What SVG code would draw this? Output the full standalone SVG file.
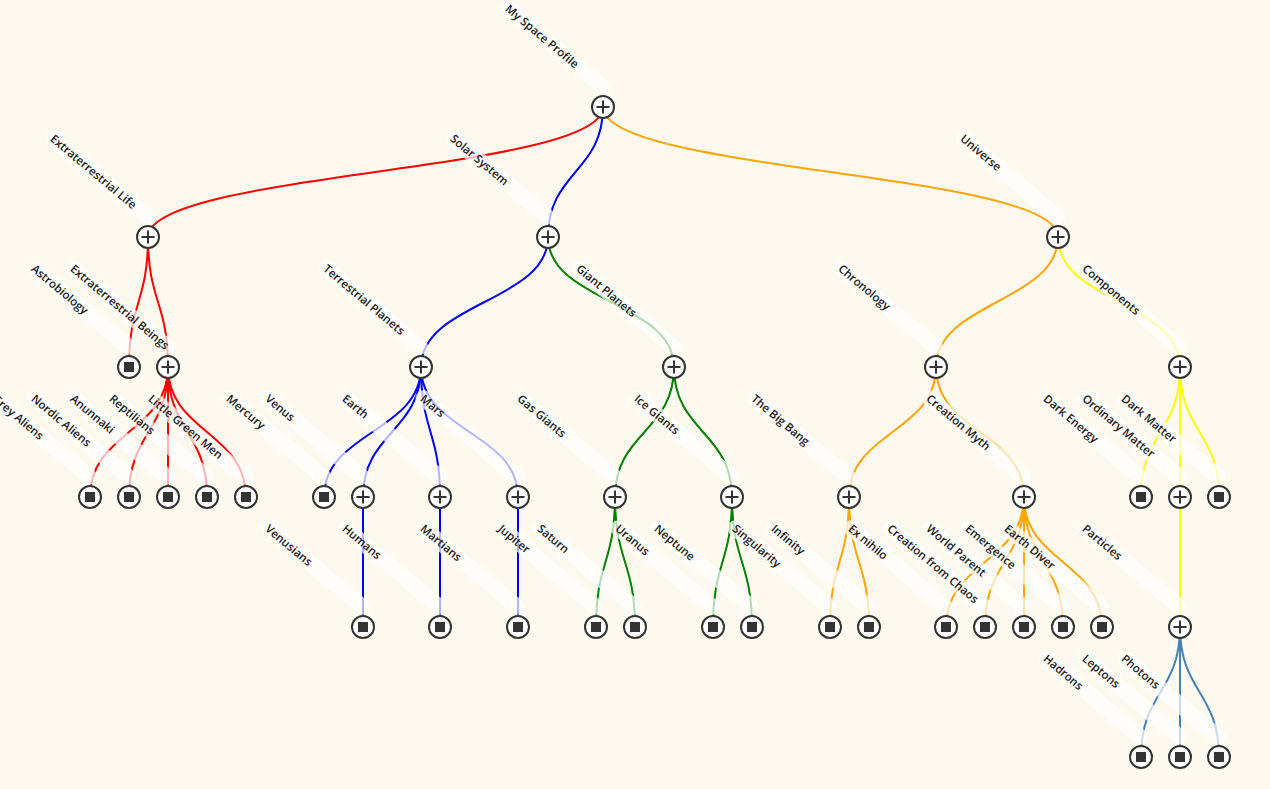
<svg xmlns="http://www.w3.org/2000/svg" width="1270" height="789" viewBox="0 0 1270 789">
<style>
.bg{fill:#fef9ee}
.lk{fill:none;stroke-width:2}
.r{stroke:#ff0000}.b{stroke:#0000ff}.g{stroke:#008000}.o{stroke:#ffa500}.y{stroke:#ffff00}.s{stroke:#4682b4}
.band{fill:#ffffff;opacity:0.7}
.lbl{font-family:"Open Sans","Noto Sans",sans-serif;font-size:11.5px;font-weight:600;fill:#1a1a1a}
.c{fill:#ffffff;stroke:#333333;stroke-width:2}
.p{stroke:#333333;stroke-width:2;fill:none}
.sq{fill:#333333}
</style>
<defs>
<g id="plus"><circle class="c" r="11"/><path class="p" d="M-6.5,0H6.5M0,-6.5V6.5"/></g>
<g id="leaf"><circle class="c" r="11"/><rect class="sq" x="-5" y="-5" width="10" height="10"/></g>
</defs>
<rect class="bg" x="0" y="0" width="1270" height="789"/>
<g id="connectors">
<path class="lk r" d="M603,107C603,172 148,172 148,237"/>
<path class="lk b" d="M603,107C603,172 548,172 548,237"/>
<path class="lk o" d="M603,107C603,172 1058,172 1058,237"/>
<path class="lk r" d="M148,237C148,302 129,302 129,367"/>
<path class="lk r" d="M148,237C148,302 168,302 168,367"/>
<path class="lk r" d="M168,367C168,432 90,432 90,497"/>
<path class="lk r" d="M168,367C168,432 129,432 129,497"/>
<path class="lk r" d="M168,367C168,432 168,432 168,497"/>
<path class="lk r" d="M168,367C168,432 207,432 207,497"/>
<path class="lk r" d="M168,367C168,432 246,432 246,497"/>
<path class="lk b" d="M548,237C548,302 421,302 421,367"/>
<path class="lk g" d="M548,237C548,302 674,302 674,367"/>
<path class="lk b" d="M421,367C421,432 324,432 324,497"/>
<path class="lk b" d="M421,367C421,432 363,432 363,497"/>
<path class="lk b" d="M421,367C421,432 440,432 440,497"/>
<path class="lk b" d="M421,367C421,432 518,432 518,497"/>
<path class="lk b" d="M363,497V627"/>
<path class="lk b" d="M440,497V627"/>
<path class="lk b" d="M518,497V627"/>
<path class="lk g" d="M674,367C674,432 615,432 615,497"/>
<path class="lk g" d="M674,367C674,432 732,432 732,497"/>
<path class="lk g" d="M615,497C615,562 596,562 596,627"/>
<path class="lk g" d="M615,497C615,562 635,562 635,627"/>
<path class="lk g" d="M732,497C732,562 713,562 713,627"/>
<path class="lk g" d="M732,497C732,562 752,562 752,627"/>
<path class="lk o" d="M1058,237C1058,302 936,302 936,367"/>
<path class="lk y" d="M1058,237C1058,302 1180,302 1180,367"/>
<path class="lk o" d="M936,367C936,432 849,432 849,497"/>
<path class="lk o" d="M936,367C936,432 1024,432 1024,497"/>
<path class="lk o" d="M849,497C849,562 830,562 830,627"/>
<path class="lk o" d="M849,497C849,562 869,562 869,627"/>
<path class="lk o" d="M1024,497C1024,562 946,562 946,627"/>
<path class="lk o" d="M1024,497C1024,562 985,562 985,627"/>
<path class="lk o" d="M1024,497C1024,562 1024,562 1024,627"/>
<path class="lk o" d="M1024,497C1024,562 1063,562 1063,627"/>
<path class="lk o" d="M1024,497C1024,562 1102,562 1102,627"/>
<path class="lk y" d="M1180,367C1180,432 1141,432 1141,497"/>
<path class="lk y" d="M1180,367C1180,432 1180,432 1180,497"/>
<path class="lk y" d="M1180,367C1180,432 1219,432 1219,497"/>
<path class="lk y" d="M1180,497V627"/>
<path class="lk s" d="M1180,627C1180,692 1141,692 1141,757"/>
<path class="lk s" d="M1180,627C1180,692 1180,692 1180,757"/>
<path class="lk s" d="M1180,627C1180,692 1219,692 1219,757"/>
</g>
<g id="n-my-space-profile" transform="translate(603,107)"><g transform="translate(-96,-100) rotate(40)"><rect class="band" x="-6" y="-8" width="138" height="16" rx="8"/><text class="lbl" x="0" y="4">My Space Profile</text></g><use href="#plus"/></g>
<g id="n-extraterrestrial-life" transform="translate(148,237)"><g transform="translate(-96,-100) rotate(40)"><rect class="band" x="-6" y="-8" width="138" height="16" rx="8"/><text class="lbl" x="0" y="4">Extraterrestrial Life</text></g><use href="#plus"/></g>
<g id="n-solar-system" transform="translate(548,237)"><g transform="translate(-96,-100) rotate(40)"><rect class="band" x="-6" y="-8" width="138" height="16" rx="8"/><text class="lbl" x="0" y="4">Solar System</text></g><use href="#plus"/></g>
<g id="n-universe" transform="translate(1058,237)"><g transform="translate(-96,-100) rotate(40)"><rect class="band" x="-6" y="-8" width="138" height="16" rx="8"/><text class="lbl" x="0" y="4">Universe</text></g><use href="#plus"/></g>
<g id="n-astrobiology" transform="translate(129,367)"><g transform="translate(-96,-100) rotate(40)"><rect class="band" x="-6" y="-8" width="138" height="16" rx="8"/><text class="lbl" x="0" y="4">Astrobiology</text></g><use href="#leaf"/></g>
<g id="n-extraterrestrial-beings" transform="translate(168,367)"><g transform="translate(-96,-100) rotate(40)"><rect class="band" x="-6" y="-8" width="138" height="16" rx="8"/><text class="lbl" x="0" y="4">Extraterrestrial Beings</text></g><use href="#plus"/></g>
<g id="n-terrestrial-planets" transform="translate(421,367)"><g transform="translate(-96,-100) rotate(40)"><rect class="band" x="-6" y="-8" width="138" height="16" rx="8"/><text class="lbl" x="0" y="4">Terrestrial Planets</text></g><use href="#plus"/></g>
<g id="n-giant-planets" transform="translate(674,367)"><g transform="translate(-96,-100) rotate(40)"><rect class="band" x="-6" y="-8" width="138" height="16" rx="8"/><text class="lbl" x="0" y="4">Giant Planets</text></g><use href="#plus"/></g>
<g id="n-chronology" transform="translate(936,367)"><g transform="translate(-96,-100) rotate(40)"><rect class="band" x="-6" y="-8" width="138" height="16" rx="8"/><text class="lbl" x="0" y="4">Chronology</text></g><use href="#plus"/></g>
<g id="n-components" transform="translate(1180,367)"><g transform="translate(-96,-100) rotate(40)"><rect class="band" x="-6" y="-8" width="138" height="16" rx="8"/><text class="lbl" x="0" y="4">Components</text></g><use href="#plus"/></g>
<g id="n-grey-aliens" transform="translate(90,497)"><g transform="translate(-96,-100) rotate(40)"><rect class="band" x="-6" y="-8" width="138" height="16" rx="8"/><text class="lbl" x="0" y="4">Grey Aliens</text></g><use href="#leaf"/></g>
<g id="n-nordic-aliens" transform="translate(129,497)"><g transform="translate(-96,-100) rotate(40)"><rect class="band" x="-6" y="-8" width="138" height="16" rx="8"/><text class="lbl" x="0" y="4">Nordic Aliens</text></g><use href="#leaf"/></g>
<g id="n-anunnaki" transform="translate(168,497)"><g transform="translate(-96,-100) rotate(40)"><rect class="band" x="-6" y="-8" width="138" height="16" rx="8"/><text class="lbl" x="0" y="4">Anunnaki</text></g><use href="#leaf"/></g>
<g id="n-reptilians" transform="translate(207,497)"><g transform="translate(-96,-100) rotate(40)"><rect class="band" x="-6" y="-8" width="138" height="16" rx="8"/><text class="lbl" x="0" y="4">Reptilians</text></g><use href="#leaf"/></g>
<g id="n-little-green-men" transform="translate(246,497)"><g transform="translate(-96,-100) rotate(40)"><rect class="band" x="-6" y="-8" width="138" height="16" rx="8"/><text class="lbl" x="0" y="4">Little Green Men</text></g><use href="#leaf"/></g>
<g id="n-mercury" transform="translate(324,497)"><g transform="translate(-96,-100) rotate(40)"><rect class="band" x="-6" y="-8" width="138" height="16" rx="8"/><text class="lbl" x="0" y="4">Mercury</text></g><use href="#leaf"/></g>
<g id="n-venus" transform="translate(363,497)"><g transform="translate(-96,-100) rotate(40)"><rect class="band" x="-6" y="-8" width="138" height="16" rx="8"/><text class="lbl" x="0" y="4">Venus</text></g><use href="#plus"/></g>
<g id="n-earth" transform="translate(440,497)"><g transform="translate(-96,-100) rotate(40)"><rect class="band" x="-6" y="-8" width="138" height="16" rx="8"/><text class="lbl" x="0" y="4">Earth</text></g><use href="#plus"/></g>
<g id="n-mars" transform="translate(518,497)"><g transform="translate(-96,-100) rotate(40)"><rect class="band" x="-6" y="-8" width="138" height="16" rx="8"/><text class="lbl" x="0" y="4">Mars</text></g><use href="#plus"/></g>
<g id="n-gas-giants" transform="translate(615,497)"><g transform="translate(-96,-100) rotate(40)"><rect class="band" x="-6" y="-8" width="138" height="16" rx="8"/><text class="lbl" x="0" y="4">Gas Giants</text></g><use href="#plus"/></g>
<g id="n-ice-giants" transform="translate(732,497)"><g transform="translate(-96,-100) rotate(40)"><rect class="band" x="-6" y="-8" width="138" height="16" rx="8"/><text class="lbl" x="0" y="4">Ice Giants</text></g><use href="#plus"/></g>
<g id="n-the-big-bang" transform="translate(849,497)"><g transform="translate(-96,-100) rotate(40)"><rect class="band" x="-6" y="-8" width="138" height="16" rx="8"/><text class="lbl" x="0" y="4">The Big Bang</text></g><use href="#plus"/></g>
<g id="n-creation-myth" transform="translate(1024,497)"><g transform="translate(-96,-100) rotate(40)"><rect class="band" x="-6" y="-8" width="138" height="16" rx="8"/><text class="lbl" x="0" y="4">Creation Myth</text></g><use href="#plus"/></g>
<g id="n-dark-energy" transform="translate(1141,497)"><g transform="translate(-96,-100) rotate(40)"><rect class="band" x="-6" y="-8" width="138" height="16" rx="8"/><text class="lbl" x="0" y="4">Dark Energy</text></g><use href="#leaf"/></g>
<g id="n-ordinary-matter" transform="translate(1180,497)"><g transform="translate(-96,-100) rotate(40)"><rect class="band" x="-6" y="-8" width="138" height="16" rx="8"/><text class="lbl" x="0" y="4">Ordinary Matter</text></g><use href="#plus"/></g>
<g id="n-dark-matter" transform="translate(1219,497)"><g transform="translate(-96,-100) rotate(40)"><rect class="band" x="-6" y="-8" width="138" height="16" rx="8"/><text class="lbl" x="0" y="4">Dark Matter</text></g><use href="#leaf"/></g>
<g id="n-venusians" transform="translate(363,627)"><g transform="translate(-96,-100) rotate(40)"><rect class="band" x="-6" y="-8" width="138" height="16" rx="8"/><text class="lbl" x="0" y="4">Venusians</text></g><use href="#leaf"/></g>
<g id="n-humans" transform="translate(440,627)"><g transform="translate(-96,-100) rotate(40)"><rect class="band" x="-6" y="-8" width="138" height="16" rx="8"/><text class="lbl" x="0" y="4">Humans</text></g><use href="#leaf"/></g>
<g id="n-martians" transform="translate(518,627)"><g transform="translate(-96,-100) rotate(40)"><rect class="band" x="-6" y="-8" width="138" height="16" rx="8"/><text class="lbl" x="0" y="4">Martians</text></g><use href="#leaf"/></g>
<g id="n-jupiter" transform="translate(596,627)"><g transform="translate(-96,-100) rotate(40)"><rect class="band" x="-6" y="-8" width="138" height="16" rx="8"/><text class="lbl" x="0" y="4">Jupiter</text></g><use href="#leaf"/></g>
<g id="n-saturn" transform="translate(635,627)"><g transform="translate(-96,-100) rotate(40)"><rect class="band" x="-6" y="-8" width="138" height="16" rx="8"/><text class="lbl" x="0" y="4">Saturn</text></g><use href="#leaf"/></g>
<g id="n-uranus" transform="translate(713,627)"><g transform="translate(-96,-100) rotate(40)"><rect class="band" x="-6" y="-8" width="138" height="16" rx="8"/><text class="lbl" x="0" y="4">Uranus</text></g><use href="#leaf"/></g>
<g id="n-neptune" transform="translate(752,627)"><g transform="translate(-96,-100) rotate(40)"><rect class="band" x="-6" y="-8" width="138" height="16" rx="8"/><text class="lbl" x="0" y="4">Neptune</text></g><use href="#leaf"/></g>
<g id="n-singularity" transform="translate(830,627)"><g transform="translate(-96,-100) rotate(40)"><rect class="band" x="-6" y="-8" width="138" height="16" rx="8"/><text class="lbl" x="0" y="4">Singularity</text></g><use href="#leaf"/></g>
<g id="n-infinity" transform="translate(869,627)"><g transform="translate(-96,-100) rotate(40)"><rect class="band" x="-6" y="-8" width="138" height="16" rx="8"/><text class="lbl" x="0" y="4">Infinity</text></g><use href="#leaf"/></g>
<g id="n-ex-nihilo" transform="translate(946,627)"><g transform="translate(-96,-100) rotate(40)"><rect class="band" x="-6" y="-8" width="138" height="16" rx="8"/><text class="lbl" x="0" y="4">Ex nihilo</text></g><use href="#leaf"/></g>
<g id="n-creation-from-chaos" transform="translate(985,627)"><g transform="translate(-96,-100) rotate(40)"><rect class="band" x="-6" y="-8" width="138" height="16" rx="8"/><text class="lbl" x="0" y="4">Creation from Chaos</text></g><use href="#leaf"/></g>
<g id="n-world-parent" transform="translate(1024,627)"><g transform="translate(-96,-100) rotate(40)"><rect class="band" x="-6" y="-8" width="138" height="16" rx="8"/><text class="lbl" x="0" y="4">World Parent</text></g><use href="#leaf"/></g>
<g id="n-emergence" transform="translate(1063,627)"><g transform="translate(-96,-100) rotate(40)"><rect class="band" x="-6" y="-8" width="138" height="16" rx="8"/><text class="lbl" x="0" y="4">Emergence</text></g><use href="#leaf"/></g>
<g id="n-earth-diver" transform="translate(1102,627)"><g transform="translate(-96,-100) rotate(40)"><rect class="band" x="-6" y="-8" width="138" height="16" rx="8"/><text class="lbl" x="0" y="4">Earth Diver</text></g><use href="#leaf"/></g>
<g id="n-particles" transform="translate(1180,627)"><g transform="translate(-96,-100) rotate(40)"><rect class="band" x="-6" y="-8" width="138" height="16" rx="8"/><text class="lbl" x="0" y="4">Particles</text></g><use href="#plus"/></g>
<g id="n-hadrons" transform="translate(1141,757)"><g transform="translate(-96,-100) rotate(40)"><rect class="band" x="-6" y="-8" width="138" height="16" rx="8"/><text class="lbl" x="0" y="4">Hadrons</text></g><use href="#leaf"/></g>
<g id="n-leptons" transform="translate(1180,757)"><g transform="translate(-96,-100) rotate(40)"><rect class="band" x="-6" y="-8" width="138" height="16" rx="8"/><text class="lbl" x="0" y="4">Leptons</text></g><use href="#leaf"/></g>
<g id="n-photons" transform="translate(1219,757)"><g transform="translate(-96,-100) rotate(40)"><rect class="band" x="-6" y="-8" width="138" height="16" rx="8"/><text class="lbl" x="0" y="4">Photons</text></g><use href="#leaf"/></g>
</svg>
